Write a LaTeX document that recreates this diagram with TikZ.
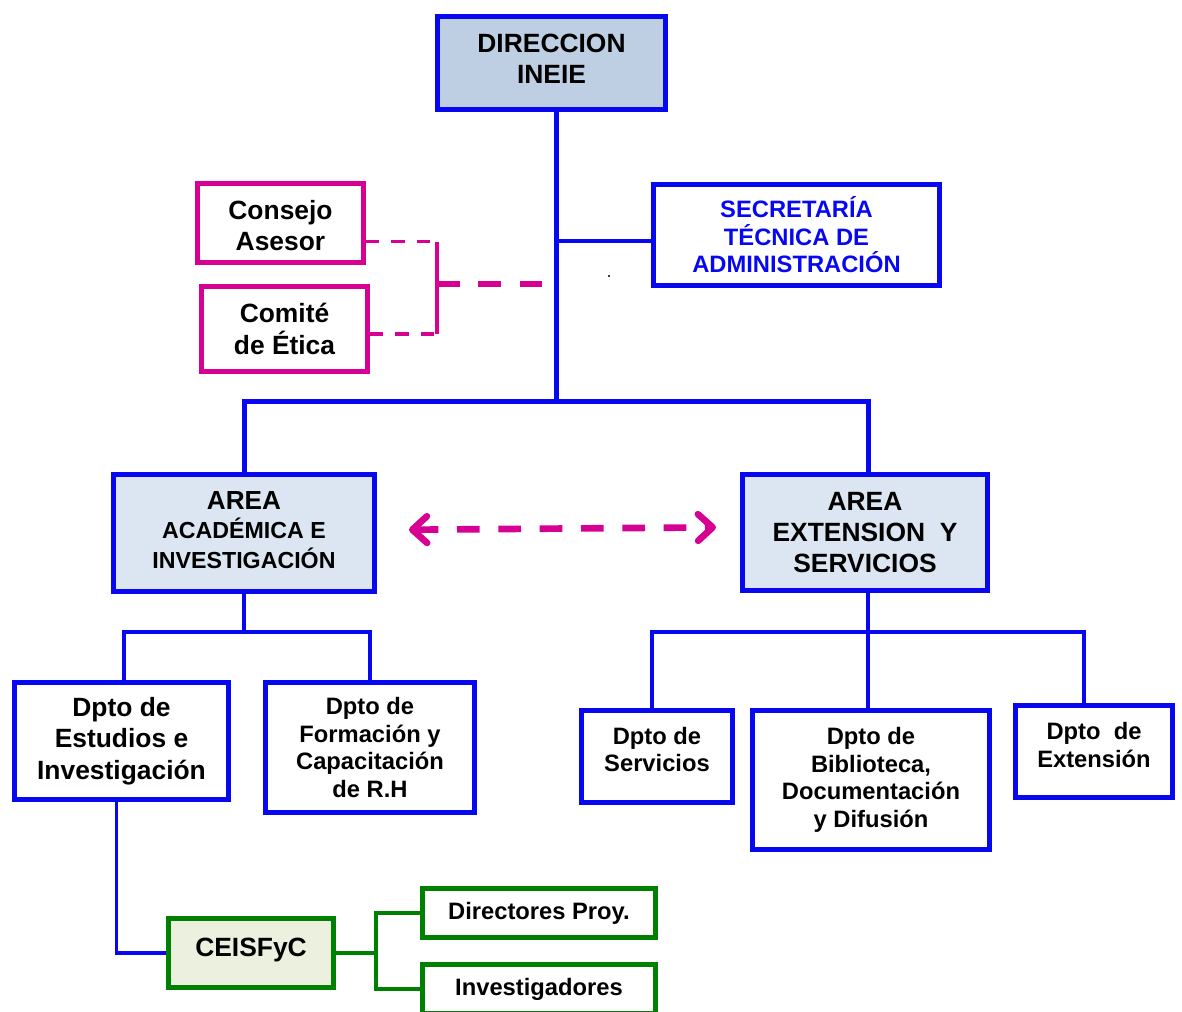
\documentclass[tikz,border=0pt]{standalone}
\usepackage{fontspec}
\setmainfont{Liberation Sans}
\usetikzlibrary{arrows.meta}

\definecolor{orgblue}{RGB}{8,8,240}
\definecolor{orgmag}{RGB}{214,0,147}
\definecolor{orggreen}{RGB}{0,128,0}
\definecolor{dirfill}{RGB}{190,207,228}
\definecolor{areafill}{RGB}{220,230,242}
\definecolor{ceisfill}{RGB}{235,241,222}

\newcommand{\liftlines}[2]{\raisebox{#1}[\height][\depth]{\begin{tabular}{@{}c@{}}#2\end{tabular}}}

\tikzset{every picture/.style={line width=0.75pt},
  bigtxt/.style={font=\fontsize{19.8pt}{23.5pt}\selectfont\bfseries},
  midtxt/.style={font=\fontsize{17.8pt}{20.6pt}\selectfont\bfseries},
  bluebox/.style={draw=orgblue, line width=3.75pt, align=center, inner sep=0pt},
  magbox/.style={draw=orgmag, line width=3.75pt, align=center, inner sep=0pt},
  greenbox/.style={draw=orggreen, line width=3.75pt, align=center, inner sep=0pt},
  trunkline/.style={draw=orgblue, line width=3.75pt},
  blueline/.style={draw=orgblue, line width=2.5pt},
  greenline/.style={draw=orggreen, line width=2.6pt},
  magthin/.style={draw=orgmag, line width=2.4pt, dash pattern=on 10pt off 9pt},
  magsolid/.style={draw=orgmag, line width=2.4pt},
  magthick/.style={draw=orgmag, line width=4pt, dash pattern=on 17pt off 14pt},
  magarrow/.style={draw=orgmag, line width=5pt, dash pattern=on 17pt off 14pt,
    {Straight Barb[length=11pt, width=20pt, round]}-{Straight Barb[length=11pt, width=20pt, round]}}
}

\begin{document}
\begin{tikzpicture}[x=0.75pt,y=0.75pt,yscale=-1,xscale=1]
\useasboundingbox (0,0) rectangle (1182,1012);

% Text Node
\draw (551.5,63) node [bluebox, bigtxt, fill=dirfill, minimum width=171pt, minimum height=69.75pt] (dir) {\liftlines{1pt}{DIRECCION\\INEIE}};
% Text Node
\draw (796.5,235) node [bluebox, midtxt, text=orgblue, minimum width=214.5pt, minimum height=75.75pt] (sec) {SECRETARÍA\\TÉCNICA DE\\ADMINISTRACIÓN};
% Text Node
\draw (280.5,223) node [magbox, bigtxt, minimum width=124.5pt, minimum height=59.25pt] (cons) {\liftlines{-4.5pt}{Consejo\\Asesor}};
% Text Node
\draw (284.5,329) node [magbox, bigtxt, minimum width=124.5pt, minimum height=63.75pt] (com) {Comité\\de Ética};
% Text Node
\draw (244,533) node [bluebox, fill=areafill, minimum width=195.75pt, minimum height=87.75pt, font=\fontsize{17.4pt}{21.75pt}\selectfont\bfseries] (acad) {\liftlines{0pt}{{\fontsize{19.6pt}{21.75pt}\selectfont AREA}\\ACADÉMICA E\\INVESTIGACIÓN}};
% Text Node
\draw (865,532.5) node [bluebox, bigtxt, fill=areafill, minimum width=183.75pt, minimum height=87pt] (ext) {AREA\\EXTENSION\ \ Y\\SERVICIOS};

% Text Node
\draw (121.5,741) node [bluebox, bigtxt, minimum width=160.5pt, minimum height=87.75pt] (est) {Dpto de\\Estudios e\\Investigación};
% Text Node
\draw (370,747.5) node [bluebox, midtxt, minimum width=156.75pt, minimum height=97.5pt] (form) {Dpto de\\Formación y\\Capacitación\\de R.H};
% Text Node
\draw (657,756.5) node [bluebox, midtxt, minimum width=113.25pt, minimum height=69pt] (serv) {\liftlines{3pt}{Dpto de\\Servicios}};
% Text Node
\draw (871,780) node [bluebox, midtxt, minimum width=177.75pt, minimum height=104.25pt] (bib) {Dpto de\\Biblioteca,\\Documentación\\y Difusión};
% Text Node
\draw (1094,751.5) node [bluebox, midtxt, minimum width=117.75pt, minimum height=69pt] (exte) {\liftlines{2.5pt}{Dpto\ \ de\\Extensión}};

% Text Node
\draw (251,953) node [greenbox, bigtxt, fill=ceisfill, minimum width=123.75pt, minimum height=51.75pt] (ceis) {\liftlines{2pt}{CEISFyC}};
% Text Node
\draw (539,913) node [greenbox, midtxt, minimum width=174.75pt, minimum height=36.75pt] (dirp) {Directores Proy.};
% Text Node
\draw (539,989) node [greenbox, midtxt, minimum width=174.75pt, minimum height=36.75pt] (inv) {Investigadores};

%Straight Lines
\coordinate (hub) at (556,402);
\coordinate (secin) at ([yshift=4.5pt]sec.west);
\draw [trunkline] (hub |- dir.south) -- (hub);
\draw [blueline, line width=3pt] (secin) -- (secin -| hub);
\draw [trunkline] (acad.north) |- (hub) -| ([xshift=2.25pt]ext.north);

%Straight Lines
\coordinate (join) at (437,284);
\coordinate (tj) at (546,284);
\coordinate (consout) at ([yshift=14pt]cons.east);
\coordinate (comout) at ([yshift=3.75pt]com.east);
\draw [magthin] (consout) -- (consout -| join);
\draw [magthin] (comout) -- (comout -| join);
\draw [magsolid] (consout -| join) -- (comout -| join);
\draw [magthick] (join) -- (tj);
\fill (609,276) circle (1.2);

%Straight Lines
\draw [magarrow, shorten <=24pt, shorten >=18pt] ([yshift=-2.25pt]acad.east) -- ([yshift=-4pt]ext.west);

%Straight Lines
\coordinate (barA) at (244,632);
\draw [blueline] (acad.south) -- (barA);
\draw [blueline] ([xshift=1.9pt]est.north) |- (barA) -| (form.north);
\coordinate (barE) at (868,632);
\draw [blueline] ([xshift=2.25pt]ext.south) -- ([xshift=2.25pt]ext.south |- bib.north);
\draw [blueline] ([xshift=-3.75pt]serv.north) |- (barE) -| ([xshift=-7.5pt]exte.north);
\draw [blueline] ([xshift=-4pt]est.south) |- (ceis.west);

%Straight Lines
\coordinate (fork) at (376,953);
\draw [greenline] (ceis.east) -- (fork);
\draw [greenline] (dirp.west) -| (fork) |- (inv.west);

\end{tikzpicture}
\end{document}
